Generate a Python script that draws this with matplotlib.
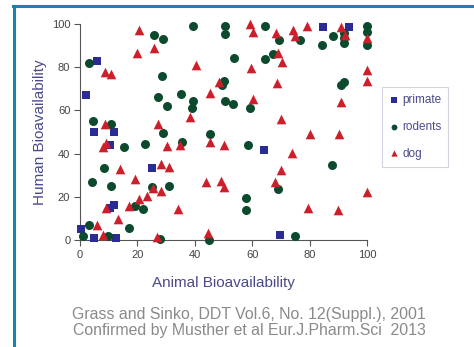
import matplotlib
matplotlib.use("Agg")
import matplotlib.pyplot as plt
from matplotlib.lines import Line2D

plt.rcParams['font.family'] = ['Liberation Sans', 'DejaVu Sans']

primate_x = [2, 6, 5, 12, 10.5, 25, 12, 10.3, 0.2, 5, 12.4, 64, 69.7, 84.5, 93.6]
primate_y = [67, 83, 50, 50, 44, 33.3, 16, 14.6, 5, 0.8, 0.8, 41.5, 2.3, 98.8, 98.8]

rodent_x = [3, 25.7, 28.8, 28.4, 39.4, 35.2, 27.1, 30.3, 39.4, 39.1, 4.4, 10.7, 50.5, 50.5,
            64.5, 69.3, 76.5, 84.3, 88.1, 92, 92, 92, 100, 100, 100, 53.5, 64.5, 67.2,
            50.2, 49.5, 92.1, 90.9, 50.5, 53.2, 59.3, 15.4, 22.5, 28.8, 35.5, 45.2, 8.3,
            4.3, 10.8, 25.1, 31, 19, 22, 16.9, 3.1, 1, 9.8, 28, 44.8, 58.4, 87.7, 69, 58,
            58, 74.8]
rodent_y = [82, 95, 93, 76, 99, 67.4, 66, 62, 64.4, 61, 55, 53.8, 99, 95.5,
            99, 92.6, 92.6, 90.5, 94.6, 96, 93.5, 91, 99, 96.5, 90.2, 84.2, 83.6, 86.3,
            73.4, 71.9, 73, 71.9, 64.2, 63.1, 61, 43, 44.6, 49.5, 45.5, 49, 33.3,
            26.7, 24.9, 24.5, 25.2, 15.7, 14.5, 5.4, 6.8, 1.7, 1.8, 0.5, 0, 44.1, 34.9, 23.6, 19.4,
            14.1, 1.8]

dog_x = [8.7, 10.8, 20.7, 19.8, 25.7, 40.4, 45.4, 38.3, 8.6, 27.3, 48.3, 59.4, 60.3, 68.4,
         74.3, 75, 79.2, 90.8, 92.3, 100, 100, 100, 69.1, 70.4, 59.5, 68.6, 60.3, 90.9,
         70, 80.1, 90.3, 8, 9.1, 30.3, 34.7, 45.4, 28.1, 31.1, 13.8, 19.1, 28.2, 23.4,
         20.4, 44, 9.1, 17, 34.1, 13.1, 6, 7.9, 26.9, 44.6, 50, 74, 70.2, 49, 50.2,
         67.8, 79.6, 89.8, 99.9, 25.5]
dog_y = [78, 77, 97.4, 86.8, 89, 81, 67.9, 56.8, 53.8, 53.5, 73.3, 99.8, 96.3, 96,
         97.2, 94.5, 99, 98.5, 95, 93.5, 78.6, 73.4, 86.6, 82.2, 79.7, 72.8, 65.1, 63.7,
         55.8, 49.2, 49.2, 43, 45, 43.6, 44.2, 45.2, 35, 33.8, 32.9, 28.1, 22.6, 20.3,
         18.9, 26.7, 14.7, 15.7, 14.5, 9.7, 6.9, 2.3, 1.3, 3.1, 43.8, 40.4, 32.6, 27.1, 24.6,
         26.9, 14.6, 14.1, 22.1, 24.1]

x_ticks = [0, 20, 40, 60, 80, 100]
y_ticks = [0, 20, 40, 60, 80, 100]

label_col = '#4a4a8c'
tick_col = '#555555'

fig = plt.figure(figsize=(4.74, 3.47), dpi=100)
ax = fig.add_axes([80/474, 1 - 240/347, 287/474, 216/347])

ax.scatter(primate_x, primate_y, marker='s', s=34, color='#2b2b95', label='primate',
           clip_on=False, zorder=3, linewidths=0)
ax.scatter(rodent_x, rodent_y, marker='o', s=42, color='#0b4a2c', label='rodents',
           clip_on=False, zorder=3, linewidths=0)
ax.scatter(dog_x, dog_y, marker='^', s=48, color='#cc1f2b', label='dog',
           clip_on=False, zorder=3, linewidths=0)

ax.set_xlim(0, 100)
ax.set_ylim(0, 100)
ax.set_xticks(x_ticks)
ax.set_yticks(y_ticks)
for s in ['top', 'right']:
    ax.spines[s].set_visible(False)
for s in ['left', 'bottom']:
    ax.spines[s].set_color(tick_col)
    ax.spines[s].set_linewidth(0.8)
ax.tick_params(direction='out', length=4, width=0.8, color=tick_col,
               labelcolor='#444444', labelsize=8, pad=3)

ax.set_xlabel('Animal Bioavailability', color=label_col, fontsize=11, labelpad=12)
ax.set_ylabel('Human Bioavailability', color=label_col, fontsize=11, labelpad=3.5)

leg = fig.legend(loc='upper left', bbox_to_anchor=(382/474, 1 - 87/347),
                 borderaxespad=0, frameon=True, fancybox=False, fontsize=8.5,
                 labelcolor=label_col, handletextpad=0.2, labelspacing=1.25,
                 borderpad=0.6, handlelength=0.9, markerscale=0.65)
leg.get_frame().set_edgecolor('#c8cad8')
leg.get_frame().set_linewidth(0.8)

fig.text(249/474, 1 - 315/347, 'Grass and Sinko, DDT Vol.6, No. 12(Suppl.), 2001',
         ha='center', va='center', fontsize=11.4, color='#8a8a8a')
fig.text(249/474, 1 - 331/347, 'Confirmed by Musther et al Eur.J.Pharm.Sci  2013',
         ha='center', va='center', fontsize=11.4, color='#8a8a8a')

frame_col = '#1784ad'
fig.add_artist(Line2D([13.5/474, 13.5/474], [0, 1 - 5.5/347], transform=fig.transFigure,
                      color=frame_col, linewidth=2.2))
fig.add_artist(Line2D([12.5/474, 1], [1 - 5.5/347, 1 - 5.5/347], transform=fig.transFigure,
                      color=frame_col, linewidth=2.2))

fig.savefig('out.png', dpi=100)
